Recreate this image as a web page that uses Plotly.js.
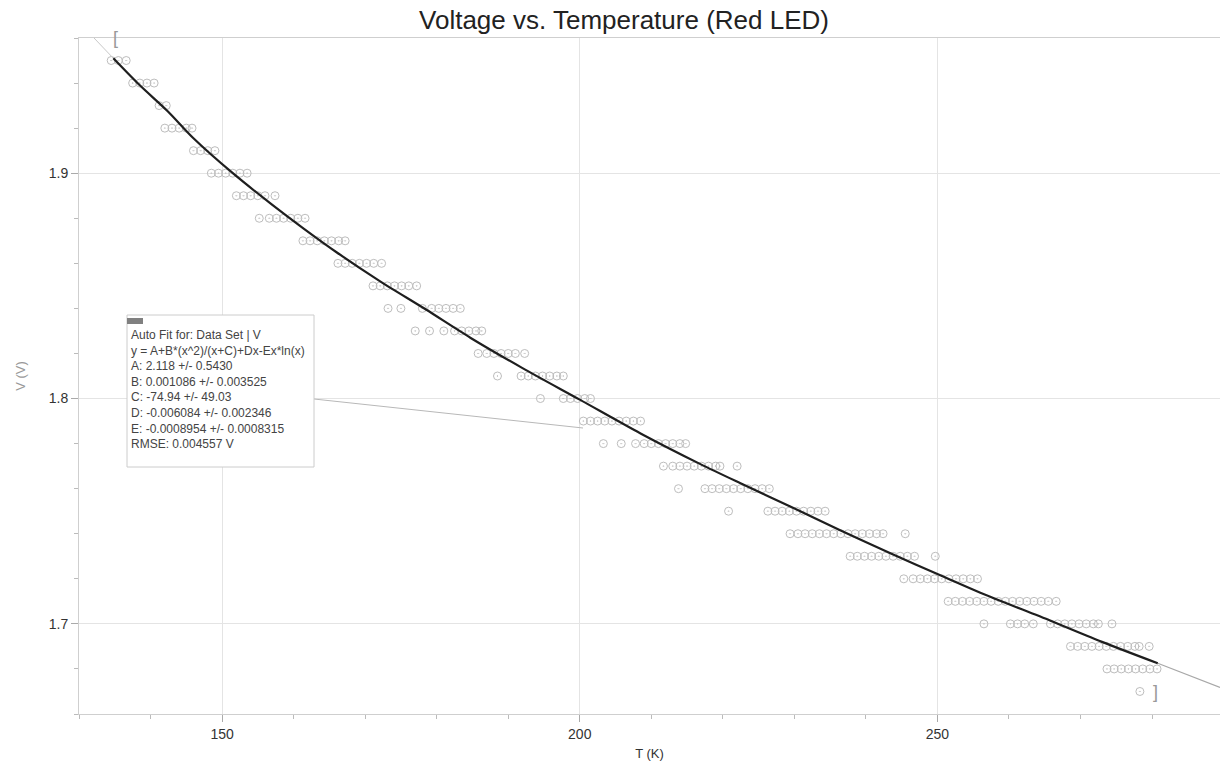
<!DOCTYPE html>
<html>
<head>
<meta charset="utf-8">
<script src="https://cdn.plot.ly/plotly-3.0.1.min.js"></script>
<style>html,body{margin:0;padding:0;background:#fff;}#chart{width:1220px;height:768px;}</style>
</head>
<body>
<div id="chart"></div>
<script>
// Measured voltage levels (V) and the temperatures (K) recorded at each level
const levelV = [1.95, 1.94, 1.93, 1.92, 1.91, 1.90, 1.89, 1.88, 1.87, 1.86, 1.85, 1.84, 1.83, 1.82,
                1.81, 1.80, 1.79, 1.78, 1.77, 1.76, 1.75, 1.74, 1.73, 1.72, 1.71, 1.70, 1.69, 1.68, 1.67];
const levelT = [
  [134.5, 135.5, 136.6],
  [137.5, 138.5, 139.5, 140.5],
  [141.2, 142.2],
  [142.0, 143.0, 144.0, 145.0, 145.8],
  [146.0, 147.0, 148.0, 149.0],
  [148.5, 149.5, 150.5, 151.5, 152.5, 153.5],
  [152.0, 153.0, 154.0, 155.0, 156.0, 157.4],
  [155.2, 156.6, 157.6, 158.6, 159.6, 160.6, 161.6],
  [161.3, 162.3, 163.3, 164.3, 165.3, 166.3, 167.2],
  [166.2, 167.2, 168.2, 169.2, 170.2, 171.2, 172.3],
  [171.1, 172.1, 173.1, 174.1, 175.1, 176.1, 177.2],
  [173.2, 175.0, 178.0, 179.3, 180.3, 181.3, 182.3, 183.3],
  [177.0, 179.0, 181.0, 182.5, 183.5, 184.5, 185.5, 186.3],
  [185.8, 187.0, 188.0, 189.0, 190.0, 191.0, 192.3],
  [188.5, 191.8, 192.8, 193.8, 194.8, 195.8, 196.8, 197.7],
  [194.5, 197.7, 198.7, 199.7, 200.7, 201.5],
  [200.5, 201.5, 202.5, 203.5, 204.5, 205.5, 206.5, 207.5, 208.5],
  [203.3, 205.8, 207.8, 209.0, 210.0, 211.0, 212.0, 213.0, 214.0, 214.8],
  [211.7, 213.0, 214.0, 215.0, 216.0, 217.0, 218.0, 219.0, 219.6, 222.0],
  [213.8, 217.5, 218.5, 219.5, 220.5, 221.5, 222.5, 223.5, 224.5, 225.5, 226.5],
  [220.8, 226.3, 227.3, 228.3, 229.3, 230.3, 231.3, 232.3, 233.3, 234.3],
  [229.4, 230.5, 231.5, 232.5, 233.5, 234.5, 235.5, 236.5, 237.5, 238.5, 239.5, 240.5, 241.5, 242.4, 245.5],
  [237.8, 238.8, 239.8, 240.8, 241.8, 242.8, 243.8, 244.8, 245.8, 246.8, 249.7],
  [245.3, 246.6, 247.6, 248.6, 249.6, 250.6, 251.6, 252.6, 253.6, 254.6, 255.6],
  [251.5, 252.5, 253.5, 254.5, 255.5, 256.5, 257.5, 258.5, 259.5, 260.5, 261.5, 262.5, 263.5, 264.5, 265.5, 266.6],
  [256.5, 260.2, 261.2, 262.2, 263.4, 265.8, 266.8, 267.8, 268.8, 269.8, 270.8, 271.8, 272.5, 274.4],
  [268.6, 269.6, 270.6, 271.6, 272.6, 273.6, 274.6, 275.6, 276.6, 277.6, 278.2, 279.6],
  [273.7, 274.7, 275.7, 276.7, 277.7, 278.7, 279.7, 280.7],
  [278.3]
];

// Fit curve (fitted range, drawn dark)
const fitT = [134.8, 138.5, 142.4, 146.0, 151.5, 156.8, 161.5, 166.1, 172.1, 178.5, 184.7, 192.0,
              200.0, 208.5, 216.8, 222.4, 229.5, 236.4, 243.5, 250.8, 256.0, 265.8, 273.0, 280.8];
const fitV = [1.951, 1.939, 1.9275, 1.9155, 1.900, 1.8865, 1.8752, 1.8647, 1.852, 1.8395, 1.827, 1.8135,
              1.7995, 1.7845, 1.771, 1.7625, 1.752, 1.7415, 1.7312, 1.7210, 1.7138, 1.7014, 1.6920, 1.6825];
// Extrapolated parts of the fit (drawn thin, light)
const headT = [132.1, 134.8];
const headV = [1.960, 1.951];
const tailT = [280.8, 285.0, 289.5];
const tailV = [1.6825, 1.6773, 1.6718];

// Fit box text
const fitLines = [
  "Auto Fit for: Data Set | V",
  "y = A+B*(x^2)/(x+C)+Dx-Ex*ln(x)",
  "A: 2.118 +/- 0.5430",
  "B: 0.001086 +/- 0.003525",
  "C: -74.94 +/- 49.03",
  "D: -0.006084 +/- 0.002346",
  "E: -0.0008954 +/- 0.0008315",
  "RMSE: 0.004557 V"
];

const titleText = "Voltage vs. Temperature (Red LED)";
const xTitle = "T (K)";
const yTitle = "V (V)";

const ptsT = [], ptsV = [];
levelT.forEach((arr, i) => arr.forEach(t => { ptsT.push(t); ptsV.push(levelV[i]); }));

const FONT = "Liberation Sans, Arial, Helvetica, sans-serif";
const L = 79, T0 = 38, W = 1141, H = 676;
const px = x => (x - L) / W;
const py = y => 1 - (y - T0) / H;

const traces = [
  { x: ptsT, y: ptsV, type: "scatter", mode: "markers",
    marker: { symbol: "circle-open-dot", size: 8, color: "#bdbdbd", line: { width: 1, color: "#bdbdbd" } },
    hoverinfo: "x+y" },
  { x: headT, y: headV, type: "scatter", mode: "lines", line: { color: "#c8c8c8", width: 1 }, hoverinfo: "skip" },
  { x: tailT, y: tailV, type: "scatter", mode: "lines", line: { color: "#a8a8a8", width: 1.2 }, hoverinfo: "skip" },
  { x: fitT, y: fitV, type: "scatter", mode: "lines", line: { color: "#1e1e1e", width: 2.2, shape: "spline", smoothing: 0.8 }, hoverinfo: "skip" }
];

const layout = {
  width: 1220, height: 768,
  margin: { l: L, r: 0, t: T0, b: 768 - T0 - H },
  paper_bgcolor: "#fff", plot_bgcolor: "#fff",
  showlegend: false,
  font: { family: FONT, color: "#333", size: 13 },
  title: { text: titleText, font: { family: FONT, size: 26, color: "#222" },
           x: 624 / 1220, xref: "container", xanchor: "center", y: 1 - 20 / 768, yref: "container", yanchor: "middle" },
  xaxis: {
    range: [130, 289.5], tick0: 0, dtick: 50, ticks: "outside", ticklen: 7, tickcolor: "#aaa", tickwidth: 1,
    minor: { dtick: 10, ticks: "outside", ticklen: 4, tickcolor: "#bbb", showgrid: false },
    showgrid: true, gridcolor: "#e4e4e4", gridwidth: 1,
    showline: true, linecolor: "#cfcfcf", linewidth: 1, mirror: true,
    zeroline: false, tickfont: { family: FONT, size: 14, color: "#333" },
    title: { text: xTitle, font: { family: FONT, size: 13, color: "#333" }, standoff: 8 }
  },
  yaxis: {
    range: [1.66, 1.96], tick0: 0, dtick: 0.1, tickformat: ".1f", ticks: "outside", ticklen: 7, tickcolor: "#aaa", tickwidth: 1,
    minor: { dtick: 0.02, ticks: "outside", ticklen: 4, tickcolor: "#bbb", showgrid: false },
    showgrid: true, gridcolor: "#e4e4e4", gridwidth: 1,
    showline: true, linecolor: "#cfcfcf", linewidth: 1,
    zeroline: false, tickfont: { family: FONT, size: 14, color: "#333" },
    title: { text: yTitle, font: { family: FONT, size: 13, color: "#999" }, standoff: 20 }
  },
  shapes: [
    { type: "line", xref: "paper", yref: "paper", x0: px(314), y0: py(399), x1: px(583), y1: py(428),
      line: { color: "#b8b8b8", width: 1 } },
    { type: "rect", xref: "paper", yref: "paper", x0: px(127), y0: py(315), x1: px(314), y1: py(467),
      fillcolor: "#fff", line: { color: "#cccccc", width: 1 } },
    { type: "rect", xref: "paper", yref: "paper", x0: px(127), y0: py(318), x1: px(143), y1: py(324),
      fillcolor: "#808080", line: { width: 0 } }
  ],
  annotations: [
    { xref: "paper", yref: "paper", x: px(130), y: py(327), xanchor: "left", yanchor: "top", align: "left",
      showarrow: false, borderpad: 0, text: fitLines.join("<br>"),
      font: { family: FONT, size: 12, color: "#444" } },
    { xref: "paper", yref: "paper", x: px(115), y: py(38), xanchor: "center", yanchor: "middle",
      showarrow: false, text: "[", font: { family: FONT, size: 18, color: "#999" } },
    { xref: "paper", yref: "paper", x: px(1155), y: py(692), xanchor: "center", yanchor: "middle",
      showarrow: false, text: "]", font: { family: FONT, size: 18, color: "#999" } }
  ]
};

Plotly.newPlot("chart", traces, layout, { staticPlot: true, displayModeBar: false });
</script>
</body>
</html>
